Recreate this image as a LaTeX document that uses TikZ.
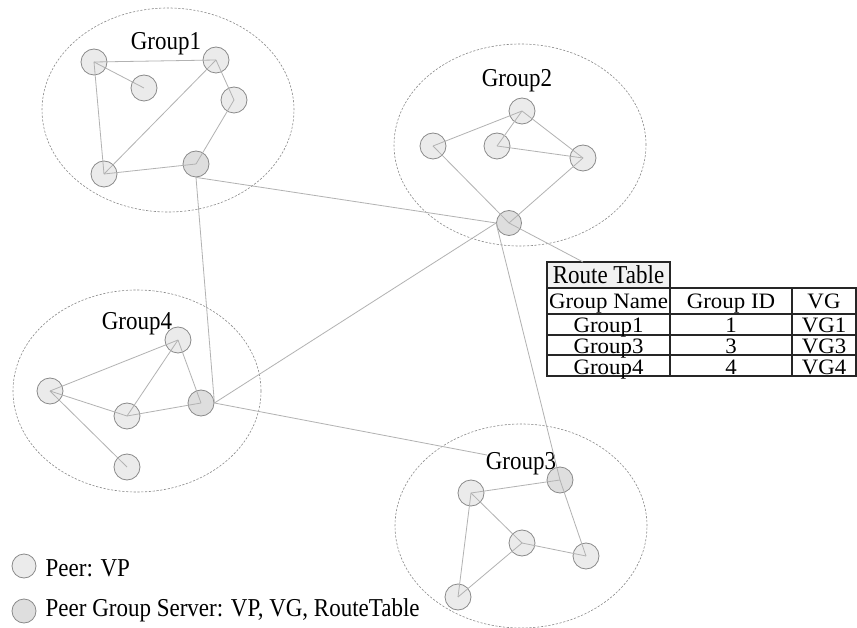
\documentclass[tikz,border=0pt]{standalone}
\usepackage{fontspec}
\usepackage{graphicx}
\setmainfont{Liberation Serif}
\definecolor{peerfill}{HTML}{EBEBEB}
\definecolor{serverfill}{HTML}{DEDEDE}
\definecolor{bordergray}{HTML}{8A8A8A}
\definecolor{linegray}{HTML}{B2B2B2}
\definecolor{ellgray}{HTML}{8A8A8A}
\definecolor{tablefill}{HTML}{F2F2F2}
\newcommand{\tallt}[1]{\scalebox{1}[1.12]{#1}}
\newcommand{\cellt}[1]{\scalebox{1.04}[1]{#1}}
\begin{document}
\begin{tikzpicture}[x=1pt,y=-1pt,
  peer/.style={circle, draw=bordergray, fill=peerfill, line width=0.8pt, minimum size=26pt, inner sep=0pt},
  server/.style={peer, fill=serverfill},
  legpeer/.style={peer, minimum size=24pt},
  legserver/.style={server, minimum size=24pt},
  link/.style={draw=linegray, line width=0.8pt},
  grp/.style={draw=ellgray, dash pattern=on 2.2pt off 1.6pt, line width=0.6pt},
  lbl/.style={font=\fontsize{23}{27}\selectfont, inner sep=0pt, anchor=base},
  clbl/.style={font=\fontsize{22}{26}\selectfont, inner sep=0pt, anchor=base},
  tline/.style={draw=black!85, line width=1.1pt}]
\fill[white] (0,0) rectangle (857,628);
\useasboundingbox (0,0) rectangle (857,628);

% group ellipses
\draw[grp] (168,110) ellipse [x radius=126pt, y radius=102pt];
\draw[grp] (520,145) ellipse [x radius=126pt, y radius=101pt];
\draw[grp] (137,391) ellipse [x radius=124pt, y radius=101pt];
\draw[grp] (521,526) ellipse [x radius=126pt, y radius=102pt];

% group labels
\node[lbl] (g1lbl) at (166,50) {\tallt{Group1}};
\node[lbl] (g2lbl) at (517,86.5) {\tallt{Group2}};
\node[lbl] (g4lbl) at (137,330) {\tallt{Group4}};
\node[lbl] (g3lbl) at (521,469) {\tallt{Group3}};

% Group1
\node[peer] (A1) at (94,62) {};
\node[peer] (A2) at (144,88) {};
\node[peer] (A3) at (216,60) {};
\node[peer] (A4) at (234,100) {};
\node[server] (A5) at (196,164) {};
\node[peer] (A6) at (104,174) {};
% Group2
\node[peer] (B1) at (433,146) {};
\node[peer] (B2) at (522,111) {};
\node[peer] (B3) at (497,146) {};
\node[peer] (B4) at (583,158) {};
\node[server, minimum size=25pt] (B5) at (509,223) {};
% Group3
\node[peer] (C1) at (471,493) {};
\node[server] (C2) at (560,480) {};
\node[peer] (C3) at (522,543) {};
\node[peer] (C4) at (586,556) {};
\node[peer] (C5) at (458,597) {};
% Group4
\node[peer] (D1) at (178,340) {};
\node[peer] (D2) at (50,391) {};
\node[peer] (D3) at (127,416) {};
\node[server] (D4) at (201,403) {};
\node[peer] (D5) at (127,467) {};

% internal links
\draw[link] (A1.center) -- (A3.center);
\draw[link] (A1.center) -- (A2.center);
\draw[link] (A1.center) -- (A6.center);
\draw[link] (A6.center) -- (A3.center);
\draw[link] (A3.center) -- (A4.center);
\draw[link] (A4.center) -- (A5.center);
\draw[link] (A6.center) -- (A5.center);

\draw[link] (B1.center) -- (B2.center);
\draw[link] (B2.center) -- (B3.center);
\draw[link] (B3.center) -- (B4.center);
\draw[link] (B2.center) -- (B4.center);
\draw[link] (B4.center) -- (B5.center);
\draw[link] (B1.center) -- (B5.center);

\draw[link] (C1.center) -- (C2.center);
\draw[link] (C1.center) -- (C3.center);
\draw[link] (C1.center) -- (C5.center);
\draw[link] (C5.center) -- (C3.center);
\draw[link] (C3.center) -- (C4.center);
\draw[link] (C2.center) -- (C4.center);

\draw[link] (D2.center) -- (D1.center);
\draw[link] (D2.center) -- (D3.center);
\draw[link] (D2.center) -- (D5.center);
\draw[link] (D3.center) -- (D1.center);
\draw[link] (D3.center) -- (D4.center);
\draw[link] (D1.center) -- (D4.center);

% route table
\coordinate (tabend) at (583,262);
\coordinate (g3end) at (487,455);
\filldraw[tline, fill=tablefill] (547,262) rectangle (670,288);
\draw[tline] (547,288) rectangle (856,376);
\draw[tline] (547,314) -- (856,314);
\draw[tline] (547,335) -- (856,335);
\draw[tline] (547,355) -- (856,355);
\draw[tline] (670,288) -- (670,376);
\draw[tline] (792,288) -- (792,376);
\node[lbl] (trt) at (608.5,283.5) {\tallt{Route Table}};
\node[clbl] (th1) at (608.5,309) {\cellt{Group Name}};
\node[clbl] (th2) at (731,309) {\cellt{Group ID}};
\node[clbl] (th3) at (824,309) {\cellt{VG}};
\node[clbl] (r11) at (608.5,332.5) {\cellt{Group1}};
\node[clbl] (r12) at (731,332.5) {\cellt{1}};
\node[clbl] (r13) at (824,332.5) {\cellt{VG1}};
\node[clbl] (r21) at (608.5,353.5) {\cellt{Group3}};
\node[clbl] (r22) at (731,353.5) {\cellt{3}};
\node[clbl] (r23) at (824,353.5) {\cellt{VG3}};
\node[clbl] (r31) at (608.5,374.5) {\cellt{Group4}};
\node[clbl] (r32) at (731,374.5) {\cellt{4}};
\node[clbl] (r33) at (824,374.5) {\cellt{VG4}};

% external links
\draw[link] (A5.south) -- (B5.west);
\draw[link] (A5.south) -- (D4.east);
\draw[link] (D4.east) -- (B5.west);
\draw[link] (D4.east) -- (g3end);
\draw[link] (B5.west) -- (C2.center);
\draw[link] (B5.center) -- (tabend);

% legend
\node[legpeer] (lp) at (24,566) {};
\node[legserver] (ls) at (24,611) {};
\node[lbl, anchor=base west] (lpt) at (45.5,576) {\tallt{Peer: VP}};
\node[lbl, anchor=base west] (lst) at (45.5,616.5) {\tallt{Peer Group Server: VP, VG, RouteTable}};
\end{tikzpicture}
\end{document}
